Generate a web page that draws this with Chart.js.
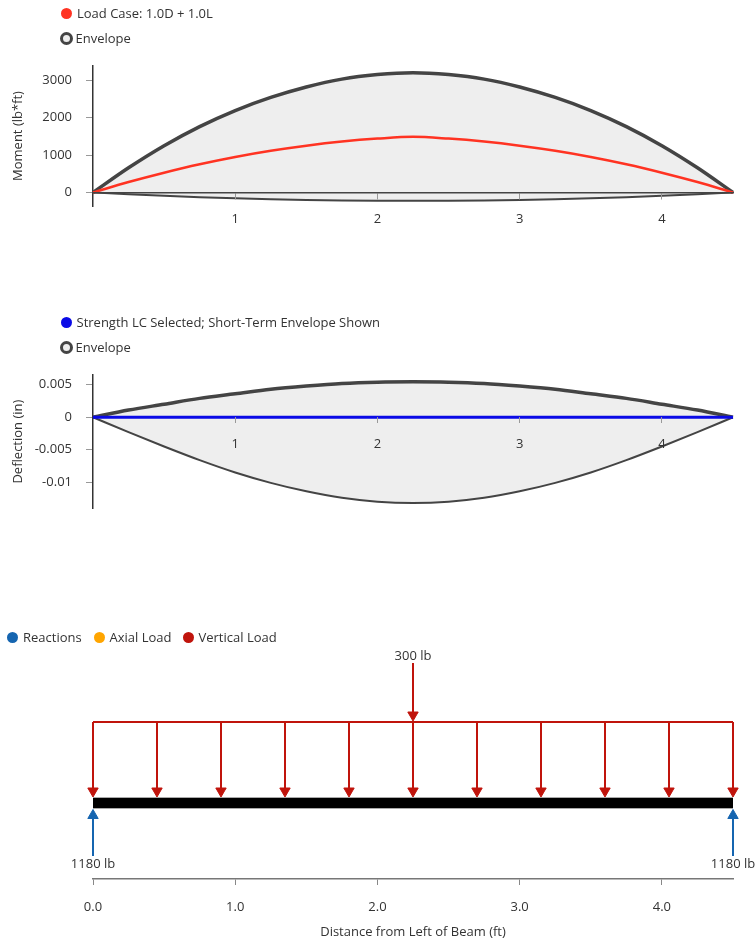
<!DOCTYPE html>
<html>
<head>
<meta charset="utf-8">
<script src="https://cdn.jsdelivr.net/npm/chart.js@4.4.1/dist/chart.umd.min.js"></script>
<style>
  body { margin: 0; background: #fff; font-family: "Open Sans", sans-serif; }
  #page { position: relative; width: 756px; height: 944px; overflow: hidden; }
  #page canvas { position: absolute; left: 0; }
  .item { position: absolute; height: 16px; line-height: 16px; font-size: 13px; color: #333; white-space: nowrap; }
  .item i { display: inline-block; box-sizing: border-box; border-radius: 50%; vertical-align: middle; position: relative; top: -1px; }
  .dot { width: 11px; height: 11px; margin-right: 5px; }
  .ring { width: 13px; height: 13px; border: 3.5px solid #444; background: #eee; margin-right: 3px; }
</style>
</head>
<body>
<div id="page">
  <canvas id="momentChart" width="756" height="250" style="top:0"></canvas>
  <canvas id="deflectionChart" width="756" height="280" style="top:250px"></canvas>
  <canvas id="loadChart" width="756" height="414" style="top:530px"></canvas>

  <div class="item" style="left:61px; top:5px"><i class="dot" style="background:#ff3322"></i>Load Case: 1.0D + 1.0L</div>
  <div class="item" style="left:59.5px; top:30px"><i class="ring"></i>Envelope</div>

  <div class="item" style="left:60.5px; top:314px"><i class="dot" style="background:#0a0ae6"></i>Strength LC Selected; Short-Term Envelope Shown</div>
  <div class="item" style="left:59.5px; top:339px"><i class="ring"></i>Envelope</div>

  <div class="item" style="left:7px; top:629px"><i class="dot" style="background:#1565b0"></i>Reactions</div>
  <div class="item" style="left:93.5px; top:629px"><i class="dot" style="background:#ffa500"></i>Axial Load</div>
  <div class="item" style="left:182.5px; top:629px"><i class="dot" style="background:#c0140c"></i>Vertical Load</div>
</div>

<script>
// stations along the beam (ft)
const stations = [0, 0.25, 0.5, 0.75, 1, 1.25, 1.5, 1.75, 2, 2.25, 2.5, 2.75, 3, 3.25, 3.5, 3.75, 4, 4.25, 4.5];

// moment (lb*ft)
const momentLoadCase = [0, 280, 530, 755, 950, 1115, 1250, 1360, 1440, 1490, 1440, 1360, 1250, 1115, 950, 755, 530, 280, 0];
const momentEnvMax = [0, 660, 1250, 1760, 2190, 2540, 2820, 3030, 3150, 3200, 3150, 3030, 2820, 2540, 2190, 1760, 1250, 660, 0];
const momentEnvMin = [0, -47, -88, -124, -154, -179, -198, -212, -220, -223, -220, -212, -198, -179, -154, -124, -88, -47, 0];

// deflection (in)
const deflLoadCase = [0, 0, 0, 0, 0, 0, 0, 0, 0, 0, 0, 0, 0, 0, 0, 0, 0, 0, 0];
const deflEnvMax = [0, 0.0011, 0.002, 0.0029, 0.0036, 0.0043, 0.0048, 0.0052, 0.0054, 0.00545, 0.0054, 0.0052, 0.0048, 0.0043, 0.0036, 0.0029, 0.002, 0.0011, 0];
const deflEnvMin = [0, -0.0023, -0.0045, -0.0066, -0.0085, -0.0101, -0.0114, -0.0124, -0.013, -0.0132, -0.013, -0.0124, -0.0114, -0.0101, -0.0085, -0.0066, -0.0045, -0.0023, 0];

// tick labels
const spanTicks = [1, 2, 3, 4];
const momentTicks = [0, 1000, 2000, 3000];
const deflTicks = [-0.01, -0.005, 0, 0.005];
const distanceTicks = [0, 1, 2, 3, 4];

// loads
const beamSpan = [0, 4.5];
const distLoadX = [0, 0.45, 0.9, 1.35, 1.8, 2.25, 2.7, 3.15, 3.6, 4.05, 4.5];
const pointLoadX = [2.25];
const pointLoadLb = [300];
const reactionX = [0, 4.5];
const reactionLb = [1180, 1180];

Chart.defaults.font.family = '"Open Sans", sans-serif';
Chart.defaults.font.size = 13;
Chart.defaults.color = '#333';

const xy = (xs, ys) => xs.map((x, i) => ({ x: x, y: ys[i] }));

// x axis crossing at y = 0, labels under the line, drawn above the fill
// (border drawn after the grid layer, so it needs z >= grid z)
function spanAxis(showBorder) {
  return {
    type: 'linear',
    min: beamSpan[0],
    max: beamSpan[1],
    position: { y: 0 },
    afterBuildTicks: s => { s.ticks = spanTicks.map(v => ({ value: v })); },
    afterFit: s => { s.height = 0; },
    grid: { drawOnChartArea: false, tickLength: 6, color: '#999', z: 1 },
    border: { display: showBorder, color: '#444', width: 1.5, z: 1 },
    ticks: { padding: 13, color: '#333', z: 1, callback: v => String(v) }
  };
}

function valueAxis(min, max, tickVals, title) {
  return {
    type: 'linear',
    min: min,
    max: max,
    afterBuildTicks: s => { s.ticks = tickVals.map(v => ({ value: v })); },
    afterFit: s => { s.width = 93; },
    grid: { drawOnChartArea: false, tickLength: 7, color: '#999' },
    border: { color: '#333', width: 1.5 },
    ticks: { padding: 14, color: '#333', callback: v => String(v) },
    title: { display: true, text: title, color: '#333', padding: { top: 10, bottom: 4 } }
  };
}

const lineStyle = { pointRadius: 0, cubicInterpolationMode: 'monotone', clip: false };

new Chart(document.getElementById('momentChart'), {
  type: 'line',
  data: {
    datasets: [
      Object.assign({ label: 'Load Case: 1.0D + 1.0L', data: xy(stations, momentLoadCase), borderColor: '#ff3322', borderWidth: 2.5, fill: false }, lineStyle),
      Object.assign({ label: 'Envelope', data: xy(stations, momentEnvMax), borderColor: '#444', borderWidth: 3.5, backgroundColor: '#eeeeee', fill: '+1' }, lineStyle),
      Object.assign({ label: 'Envelope min', data: xy(stations, momentEnvMin), borderColor: '#444', borderWidth: 2, fill: false }, lineStyle)
    ]
  },
  options: {
    responsive: false,
    animation: false,
    layout: { padding: { top: 66, bottom: 44, left: 0, right: 23 } },
    plugins: { legend: { display: false }, tooltip: { enabled: false }, filler: { drawTime: 'beforeDatasetsDraw' } },
    scales: {
      x: spanAxis(true),
      y: valueAxis(-360, 3380, momentTicks, 'Moment (lb*ft)')
    }
  }
});

new Chart(document.getElementById('deflectionChart'), {
  type: 'line',
  data: {
    datasets: [
      Object.assign({ label: 'Strength LC Selected; Short-Term Envelope Shown', data: xy(stations, deflLoadCase), borderColor: '#0a0ae6', borderWidth: 3, fill: false }, lineStyle),
      Object.assign({ label: 'Envelope', data: xy(stations, deflEnvMax), borderColor: '#444', borderWidth: 3.5, backgroundColor: '#eeeeee', fill: '+1' }, lineStyle),
      Object.assign({ label: 'Envelope min', data: xy(stations, deflEnvMin), borderColor: '#444', borderWidth: 2, fill: false }, lineStyle)
    ]
  },
  options: {
    responsive: false,
    animation: false,
    layout: { padding: { top: 125, bottom: 15, left: 0, right: 23 } },
    plugins: { legend: { display: false }, tooltip: { enabled: false }, filler: { drawTime: 'beforeDatasetsDraw' } },
    scales: {
      x: spanAxis(false),
      y: valueAxis(-0.014, 0.0065, deflTicks, 'Deflection (in)')
    }
  }
});

// vertical levels of the load diagram (hidden axis units)
const LEVEL = {
  pointTop: 10.8, pointTip: 8.2, pointLabel: 11.15,
  distTop: 7.85, distTip: 4.4,
  beam: 3.8,
  reactTip: 3.175, reactBottom: 1.15, reactLabel: 0.75
};
const RED = '#c0140c';
const BLUE = '#1565b0';

function arrow(x, from, to, color, rotation) {
  return {
    data: [{ x: x, y: from }, { x: x, y: to }],
    borderColor: color,
    borderWidth: 2,
    pointRadius: [0, 6],
    pointStyle: 'triangle',
    rotation: rotation,
    pointBackgroundColor: color,
    pointBorderColor: color,
    pointBorderWidth: 1,
    clip: false
  };
}

const loadDatasets = [];
pointLoadX.forEach(x => loadDatasets.push(arrow(x, LEVEL.pointTop, LEVEL.pointTip, RED, 180)));
distLoadX.forEach(x => loadDatasets.push(arrow(x, LEVEL.distTop, LEVEL.distTip, RED, 180)));
loadDatasets.push({
  data: [{ x: distLoadX[0], y: LEVEL.distTop }, { x: distLoadX[distLoadX.length - 1], y: LEVEL.distTop }],
  borderColor: RED, borderWidth: 2, pointRadius: 0, clip: false
});
reactionX.forEach(x => loadDatasets.push(arrow(x, LEVEL.reactBottom, LEVEL.reactTip, BLUE, 0)));
loadDatasets.push({
  data: [{ x: beamSpan[0], y: LEVEL.beam }, { x: beamSpan[1], y: LEVEL.beam }],
  borderColor: '#000', borderWidth: 10, borderCapStyle: 'butt', pointRadius: 0, clip: false
});
loadDatasets.push({
  data: [{ x: beamSpan[0], y: LEVEL.beam }, { x: beamSpan[1], y: LEVEL.beam }],
  borderColor: '#aaa', borderWidth: 12, borderCapStyle: 'butt', pointRadius: 0, clip: false
});

const loadLabels = {
  id: 'loadLabels',
  afterDatasetsDraw(chart) {
    const { ctx, scales: { x, y } } = chart;
    ctx.save();
    ctx.font = '13px "Open Sans", sans-serif';
    ctx.fillStyle = '#333';
    ctx.textAlign = 'center';
    ctx.textBaseline = 'middle';
    pointLoadX.forEach((v, i) => {
      ctx.fillText(pointLoadLb[i] + ' lb', x.getPixelForValue(v), y.getPixelForValue(LEVEL.pointLabel));
    });
    reactionX.forEach((v, i) => {
      ctx.fillText(reactionLb[i] + ' lb', x.getPixelForValue(v), y.getPixelForValue(LEVEL.reactLabel));
    });
    ctx.restore();
  }
};

new Chart(document.getElementById('loadChart'), {
  type: 'line',
  data: { datasets: loadDatasets },
  plugins: [loadLabels],
  options: {
    responsive: false,
    animation: false,
    layout: { padding: { top: 115, bottom: 0, left: 93, right: 23 } },
    plugins: { legend: { display: false }, tooltip: { enabled: false } },
    scales: {
      x: {
        type: 'linear',
        min: beamSpan[0],
        max: beamSpan[1],
        afterBuildTicks: s => { s.ticks = distanceTicks.map(v => ({ value: v })); },
        afterFit: s => { s.height = 65; },
        grid: { drawOnChartArea: false, tickLength: 6, color: '#888' },
        border: { color: '#777', width: 1.5 },
        ticks: { padding: 14, color: '#333', callback: v => v.toFixed(1) },
        title: { display: true, text: 'Distance from Left of Beam (ft)', color: '#333', padding: { top: 4, bottom: 4 } }
      },
      y: { type: 'linear', display: false, min: 0, max: 11.7 }
    }
  }
});
</script>
</body>
</html>
